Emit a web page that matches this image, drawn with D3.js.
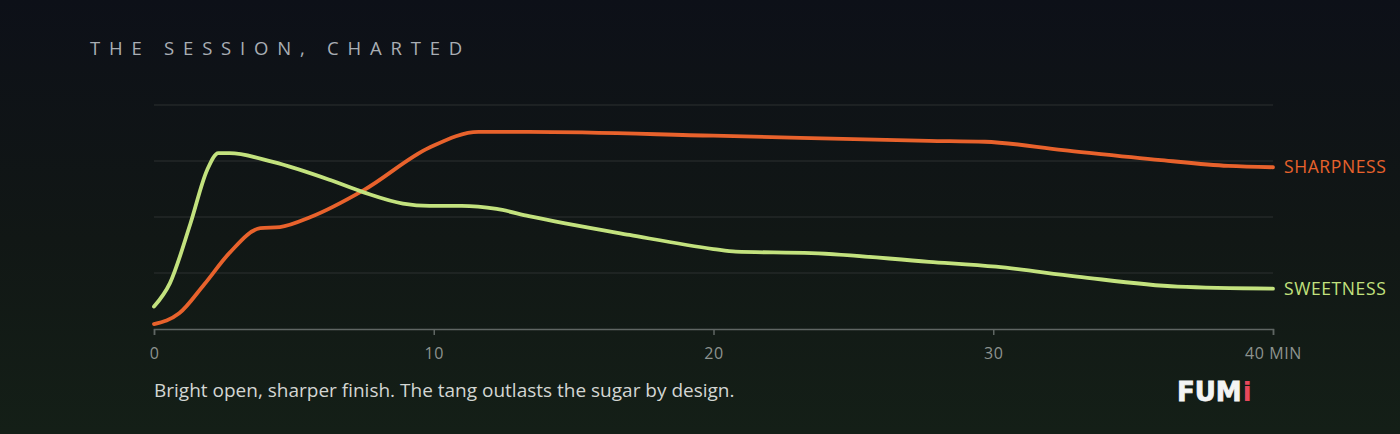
<!DOCTYPE html>
<html><head><meta charset="utf-8">
<script src="https://cdn.jsdelivr.net/npm/d3@7"></script>
<style>
html,body{margin:0;padding:0;background:#0e1117;}
svg{display:block;}
</style></head>
<body>
<svg id="chart" width="1400" height="434"></svg>
<script>
const title = "THE SESSION, CHARTED";
const caption = "Bright open, sharper finish. The tang outlasts the sugar by design.";
const xTicks = [0, 10, 20, 30, 40];
const xTickLabels = ["0", "10", "20", "30", "40 MIN"];
const yGrid = [25, 50, 75, 100];
const sharpTime  = [0, 0.9, 1.8, 2.7, 3.8, 4.5, 5.6, 7.5, 9.85, 11.6, 13.4, 20, 27.7, 29.7, 32.5, 36, 38.4, 40];
const sharpValue = [2.2, 7, 20, 34, 45, 45.5, 50, 62, 81, 88, 88, 86.3, 84, 83.6, 79.9, 75.4, 72.8, 72.2];
const sweetTime  = [0, 0.57, 1.3, 1.9, 2.3, 2.7, 4.25, 6.3, 7.5, 8.9, 9.85, 11, 12.25, 13.4, 17, 20, 20.8, 23.5, 27.7, 30.1, 33, 36.6, 40];
const sweetValue = [10, 20.5, 47, 71, 78.5, 78.5, 74.6, 66.5, 61, 56, 55, 55, 53.6, 50.4, 42, 35.7, 34.5, 33.9, 30, 27.8, 23.4, 18.9, 18];
const seriesNames = ["SHARPNESS", "SWEETNESS"];
const seriesColors = ["#e8622c", "#c3e27e"];

const svg = d3.select("#chart");
const W = 1400, H = 434;
const defs = svg.append("defs");
const bg = defs.append("linearGradient").attr("id","bg").attr("x1",0).attr("y1",0).attr("x2",0).attr("y2",1);
bg.append("stop").attr("offset","0%").attr("stop-color","#0d1018");
bg.append("stop").attr("offset","55%").attr("stop-color","#111715");
bg.append("stop").attr("offset","100%").attr("stop-color","#141f17");
svg.append("rect").attr("width",W).attr("height",H).attr("fill","url(#bg)");

const x = d3.scaleLinear().domain([0,40]).range([154,1273]);
const y = d3.scaleLinear().domain([0,100]).range([329,105]);

svg.append("text").attr("x",90).attr("y",55).text(title)
  .attr("fill","#a9aeb4").attr("font-family","'Open Sans', sans-serif")
  .attr("font-size",18.5).attr("letter-spacing","8.8px");

svg.append("g").selectAll("line").data(yGrid).join("line")
  .attr("x1",x(0)).attr("x2",x(40)).attr("y1",d=>y(d)).attr("y2",d=>y(d))
  .attr("stroke","#2c3130").attr("stroke-width",1);

const axis = d3.axisBottom(x).tickValues(xTicks).tickSize(6).tickPadding(13)
  .tickFormat((d,i)=>xTickLabels[i]);
const gx = svg.append("g").attr("transform",`translate(0,${y(0)})`).call(axis);
gx.select(".domain").attr("stroke","#5f6663").attr("stroke-width",1.5);
gx.selectAll(".tick line").attr("stroke","#5f6663").attr("stroke-width",1.5);
gx.selectAll(".tick text").attr("fill","#8d938f").attr("font-family","'Open Sans', sans-serif")
  .attr("font-size",16).attr("letter-spacing","0.6px");

const line = d3.line().x(d=>x(d[0])).y(d=>y(d[1])).curve(d3.curveMonotoneX);
const data = [
  d3.zip(sharpTime, sharpValue),
  d3.zip(sweetTime, sweetValue)
];
data.forEach((d,i)=>{
  svg.append("path").datum(d).attr("d",line).attr("fill","none")
    .attr("stroke",seriesColors[i]).attr("stroke-width",3.8)
    .attr("stroke-linecap","round").attr("stroke-linejoin","round");
  const last = d[d.length-1];
  svg.append("text").attr("x",x(40)+11).attr("y",y(last[1])+6)
    .text(seriesNames[i]).attr("fill",seriesColors[i])
    .attr("font-family","'Open Sans', sans-serif").attr("font-size",17.5)
    .attr("letter-spacing","0.6px");
});

svg.append("text").attr("x",154).attr("y",397).text(caption)
  .attr("fill","#d3d6d3").attr("font-family","'Open Sans', sans-serif").attr("font-size",19);

const logo = svg.append("text").attr("x",1177).attr("y",401)
  .attr("font-family","'DejaVu Sans', sans-serif").attr("font-weight",700).attr("font-size",26);
logo.append("tspan").text("FUM").attr("fill","#f4f4f4").attr("stroke","#f4f4f4").attr("stroke-width",0.8);
logo.append("tspan").text("i").attr("fill","#e8485c").attr("dx",1);
</script>
</body></html>
